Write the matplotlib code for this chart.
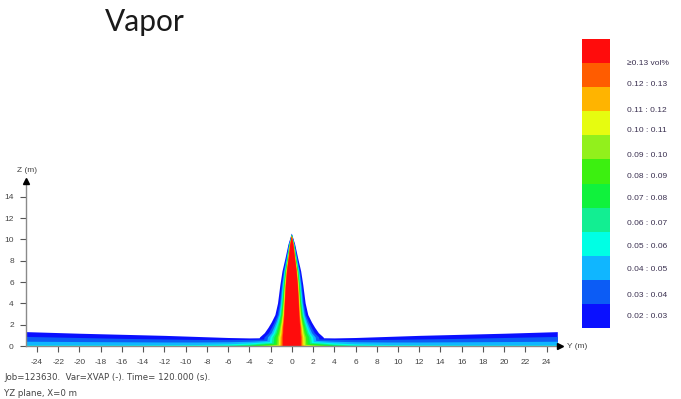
import numpy as np
import matplotlib
matplotlib.use("Agg")
import matplotlib.pyplot as plt

plt.rcParams["axes.unicode_minus"] = False

# concentration classes (vol%), lowest first
levels = [0.02, 0.03, 0.04, 0.05, 0.06, 0.07, 0.08, 0.09, 0.10, 0.11, 0.12, 0.13]
level_labels = ["0.02 : 0.03", "0.03 : 0.04", "0.04 : 0.05", "0.05 : 0.06",
                "0.06 : 0.07", "0.07 : 0.08", "0.08 : 0.09", "0.09 : 0.10",
                "0.10 : 0.11", "0.11 : 0.12", "0.12 : 0.13", "\u22650.13 vol%"]
level_colors = ["#0a10ff", "#0c5cf5", "#10b6ff", "#00ffe4", "#12ee92", "#10f23c",
                "#3cf010", "#92f01c", "#e6fc10", "#ffb400", "#ff5c00", "#ff0c0c"]

# plume: half-width (m) of each class outline at these heights (m)
plume_z = [0, 0.8, 1.2, 1.7, 2.2, 2.9, 4, 5.7, 7, 8.2, 9.5]
plume_halfwidth = [
    [3.20, 3.00, 2.55, 2.20, 1.90, 1.55, 1.30, 1.08, 0.88, 0.60, 0.32],
    [2.73, 2.57, 2.16, 1.88, 1.63, 1.34, 1.13, 0.95, 0.77, 0.53, 0.28],
    [2.38, 2.25, 1.91, 1.68, 1.47, 1.22, 1.04, 0.88, 0.71, 0.48, 0.25],
    [2.12, 2.01, 1.73, 1.53, 1.34, 1.13, 0.97, 0.82, 0.67, 0.44, 0.23],
    [1.91, 1.82, 1.58, 1.41, 1.25, 1.06, 0.92, 0.78, 0.63, 0.42, 0.22],
    [1.72, 1.65, 1.44, 1.30, 1.16, 1.00, 0.87, 0.74, 0.60, 0.40, 0.21],
    [1.53, 1.47, 1.31, 1.19, 1.07, 0.93, 0.82, 0.70, 0.57, 0.38, 0.19],
    [1.37, 1.32, 1.19, 1.10, 0.99, 0.88, 0.78, 0.67, 0.54, 0.36, 0.18],
    [1.23, 1.19, 1.09, 1.02, 0.93, 0.83, 0.75, 0.64, 0.51, 0.34, 0.17],
    [1.09, 1.07, 0.99, 0.94, 0.86, 0.78, 0.71, 0.61, 0.49, 0.33, 0.16],
    [0.97, 0.96, 0.90, 0.87, 0.81, 0.74, 0.68, 0.58, 0.47, 0.31, 0.155],
    [0.85, 0.85, 0.82, 0.80, 0.75, 0.70, 0.65, 0.56, 0.45, 0.30, 0.15],
]
plume_tip = [10.55, 10.5, 10.47, 10.45, 10.43, 10.41, 10.39, 10.37, 10.35, 10.33, 10.31, 10.3]

# ground layer: top (m) of each class at these distances |Y| (m)
ground_y = [0, 2.5, 4, 6, 9, 12, 16, 20, 25]
ground_top = [
    [0.80, 0.78, 0.76, 0.80, 0.90, 1.00, 1.10, 1.20, 1.35],
    [0.70, 0.66, 0.62, 0.60, 0.62, 0.66, 0.72, 0.80, 0.90],
    [0.60, 0.52, 0.45, 0.40, 0.38, 0.38, 0.40, 0.42, 0.45],
    [0.50, 0.40, 0.30, 0.20, 0.14, 0.12, 0.10, 0.10, 0.10],
    [0.42, 0.30, 0.18, 0.08, 0.03, 0, 0, 0, 0],
    [0.36, 0.22, 0.10, 0.02, 0, 0, 0, 0, 0],
    [0.30, 0.15, 0.04, 0, 0, 0, 0, 0, 0],
    [0.25, 0.08, 0, 0, 0, 0, 0, 0, 0],
    [0.20, 0.03, 0, 0, 0, 0, 0, 0, 0],
    [0.15, 0, 0, 0, 0, 0, 0, 0, 0],
    [0.10, 0, 0, 0, 0, 0, 0, 0, 0],
    [0, 0, 0, 0, 0, 0, 0, 0, 0],
]

x_ticks = list(range(-24, 25, 2))
z_ticks = list(range(0, 15, 2))

small_font = ["Liberation Sans", "DejaVu Sans"]

W, H = 681, 399
fig = plt.figure(figsize=(W / 100, H / 100), dpi=100)
fig.patch.set_facecolor("white")

# main axes, placed so that 1 m ~ 10.6 px
ax = fig.add_axes([20 / W, (H - 365) / H, 558 / W, 200 / H])
ax.set_facecolor("none")
ax.set_xlim(-25.6, 26.95)
ax.set_ylim(-1.78, 16.98)

gy = np.array(ground_y, dtype=float)
gy_full = np.concatenate([-gy[::-1], gy[1:]])
for i, c in enumerate(level_colors):
    top = np.array(ground_top[i], dtype=float)
    top_full = np.concatenate([top[::-1], top[1:]])
    if top_full.max() > 0:
        ax.fill_between(gy_full, 0, top_full, color=c, lw=0, zorder=2)
    w = np.array(plume_halfwidth[i])
    z = np.array(plume_z, dtype=float)
    xs = np.concatenate([w, [0], -w[::-1]])
    zs = np.concatenate([z, [plume_tip[i]], z[::-1]])
    ax.fill(xs, zs, color=c, lw=0, zorder=2)

axis_col = "#8a8a8a"
for s in ["top", "right"]:
    ax.spines[s].set_visible(False)
ax.spines["left"].set_position(("data", -25))
ax.spines["bottom"].set_position(("data", 0))
ax.spines["left"].set_bounds(0, 15.3)
ax.spines["bottom"].set_bounds(-25, 25.2)
for s in ["left", "bottom"]:
    ax.spines[s].set_color(axis_col)
    ax.spines[s].set_linewidth(1.0)
    ax.spines[s].set_zorder(3)

ax.set_xticks(x_ticks)
ax.set_yticks(z_ticks)
ax.tick_params(axis="both", direction="out", length=4, width=0.8, color="#555555",
               labelsize=6, labelcolor="#444444", pad=5)
for lab in ax.get_xticklabels() + ax.get_yticklabels():
    lab.set_family(small_font)

# arrow heads and axis names
ax.plot([-25], [15.5], marker="^", color="black", ms=5, clip_on=False, zorder=4)
ax.plot([25.3], [0], marker=">", color="black", ms=5, clip_on=False, zorder=4)
ax.text(-24.9, 16.5, "Z (m)", fontsize=6, color="#444444", ha="center", va="center",
        family=small_font)
ax.text(25.9, 0, "Y (m)", fontsize=6, color="#444444", ha="left", va="center",
        family=small_font, clip_on=False)

# colour legend
cax = fig.add_axes([582 / W, (H - 328) / H, 28 / W, 289 / H])
n = len(levels)
for i, c in enumerate(level_colors):
    cax.bar(0, 1, bottom=n - 1 - i, width=1, color=c, lw=0)
cax.set_xlim(-0.5, 0.5)
cax.set_ylim(n, 0)
cax.axis("off")
label_y = [11.54, 10.66, 9.59, 8.63, 7.68, 6.64, 5.73, 4.85, 3.78, 2.95, 1.91, 1.0]
for i, lab in enumerate(level_labels):
    cax.text(1.1, label_y[i], lab, fontsize=6, color="#3a3050", ha="left",
             va="center", family=small_font, clip_on=False)

fig.text(105 / W, 1 - 31 / H, "Vapor", fontsize=21.5, family=["Lato", "DejaVu Sans"],
         color="#1a1a1a", va="baseline", ha="left")
fig.text(4 / W, 1 - 378 / H, "Job=123630.  Var=XVAP (-). Time= 120.000 (s).",
         fontsize=6.2, color="#444444", va="center")
fig.text(4 / W, 1 - 393 / H, "YZ plane, X=0 m", fontsize=6.2, color="#444444",
         va="center")

fig.savefig("out.png", dpi=100)
